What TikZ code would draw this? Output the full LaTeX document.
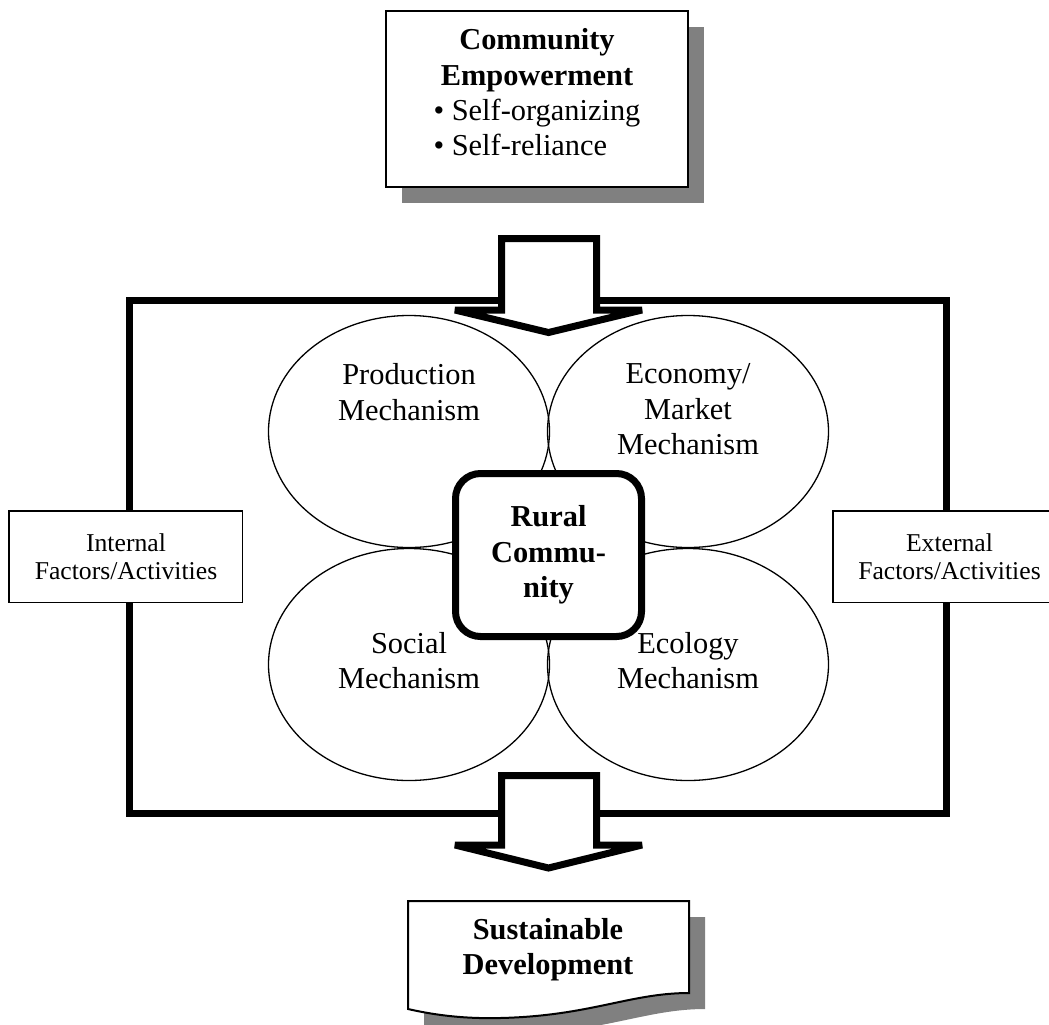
\documentclass[tikz,border=0pt]{standalone}
\usepackage{fontspec}
\setmainfont{Liberation Serif}
\usepackage{tikz}
\usetikzlibrary{positioning,shapes.geometric,shadows}

\begin{document}
\begin{tikzpicture}[x=0.2mm, y=-0.2mm,
  bigtext/.style={font=\fontsize{17.3}{20.1}\selectfont, align=center},
  boldtext/.style={font=\fontsize{17.3}{20.1}\selectfont\bfseries, align=center},
  mech/.style={draw, ellipse, line width=0.26mm, minimum width=56.2mm, minimum height=46.4mm},
  mechtxt/.style={bigtext, inner sep=0pt},
  factor/.style={draw, fill=white, line width=0.3mm, minimum width=46.7mm, minimum height=18.3mm, align=center, font=\fontsize{14.6}{16.4}\selectfont},
  gshadow/.style={drop shadow={shadow xshift=3.2mm, shadow yshift=-3.2mm, fill=black!50, opacity=1}},
  bigarrow/.style={draw, fill=white, line width=1.4mm, line join=miter, miter limit=2}
]
  \useasboundingbox (0,0) rectangle (1049,1024);
  \clip (0,0) rectangle (1049,1024);

  % community empowerment
  \node[draw, fill=white, line width=0.4mm, gshadow, minimum width=60.4mm, minimum height=35.2mm] (empower) at (537,99) {};
  \node[boldtext, inner sep=0pt, below=3.7mm of empower.north] (empowertxt) {Community\\Empowerment\\
    \normalfont\fontsize{17.3}{20.1}\selectfont\begin{tabular}[t]{@{}l@{}}\textbullet\ Self-organizing\\\textbullet\ Self-reliance\end{tabular}};

  % frame
  \node[draw, line width=1.4mm, minimum width=163.3mm, minimum height=102.5mm] (frame) at (537.75,556.75) {};

  % mechanisms
  \node[mech] (prod) at (409,431.5) {};
  \node[mech] (econ) at (688,431.5) {};
  \node[mech] (social) at (409,664.5) {};
  \node[mech] (ecol) at (688,664.5) {};
  \node[mechtxt, below=9.7mm of prod.north] (prodtxt) {Production\\Mechanism};
  \node[mechtxt, below=9.7mm of econ.north] (econtxt) {Economy/\\Market\\Mechanism};
  \node[mechtxt, below=16.8mm of social.north] (socialtxt) {Social\\Mechanism};
  \node[mechtxt, below=16.8mm of ecol.north] (ecoltxt) {Ecology\\Mechanism};

  % arrows in and out
  \coordinate (inflow) at (549,238.5);
  \coordinate (outflow) at (549,775.5);
  \draw[bigarrow] (inflow) ++(-47.5,0) -- ++(95,0) -- ++(0,71.5) -- ++(45.5,0) -- ++(-93.5,22.5) -- ++(-93.5,-22.5) -- ++(46.5,0) -- cycle;
  \draw[bigarrow] (outflow) ++(-47.5,0) -- ++(95,0) -- ++(0,69.5) -- ++(45.5,0) -- ++(-93.5,23) -- ++(-93.5,-23) -- ++(46.5,0) -- cycle;

  % rural community
  \node[draw, fill=white, line width=1.4mm, rounded corners=5mm, minimum width=37.2mm, minimum height=32.6mm, boldtext] (rural) at (548.5,555) {Rural\\Commu-\\nity};

  % factors
  \node[factor] (internal) at (frame.west) {Internal\\Factors/Activities};
  \node[factor] (external) at (frame.east) {External\\Factors/Activities};

  % sustainable development
  \draw[fill=white, line width=0.4mm, gshadow] (408,901) -- (689,901) -- (689,993) .. controls (630,993) and (590,1016) .. (500,1018) .. controls (460,1019) and (430,1014) .. (408,1009) -- cycle;
  \node[boldtext] (sustain) at (548,950) {Sustainable\\Development};
\end{tikzpicture}
\end{document}
